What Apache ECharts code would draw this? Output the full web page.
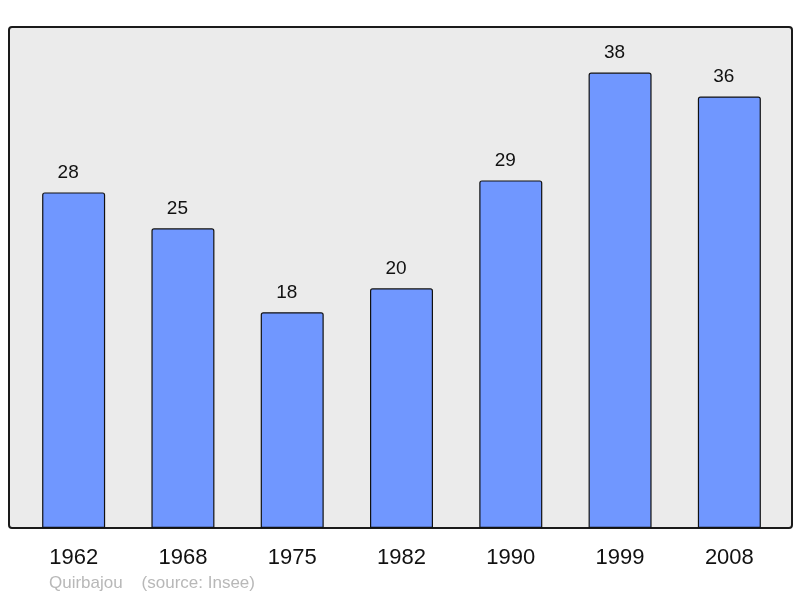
<!DOCTYPE html>
<html>
<head>
<meta charset="utf-8">
<script src="https://cdn.jsdelivr.net/npm/echarts@6/dist/echarts.min.js"></script>
<style>
  html, body { margin: 0; padding: 0; background: #fff; }
  #chart { width: 800px; height: 598px; }
</style>
</head>
<body>
<div id="chart"></div>
<script>
// données de population
var annees = ['1962', '1968', '1975', '1982', '1990', '1999', '2008'];
var population = [28, 25, 18, 20, 29, 38, 36];

var myChart = echarts.init(document.getElementById('chart'));
var option = {
  animation: false,
  textStyle: { fontFamily: 'Liberation Sans, Arial, sans-serif' },
  title: {
    text: 'Quirbajou    (source: Insee)',
    left: 49,
    top: 575,
    padding: 0,
    textStyle: { color: '#b8b8b8', fontSize: 17, fontWeight: 'normal' }
  },
  // fond du graphique
  graphic: [{
    type: 'rect',
    z: -1,
    shape: { x: 9, y: 27, width: 783, height: 501, r: 3 },
    style: { fill: '#ebebeb', stroke: '#1a1a1a', lineWidth: 2 }
  }],
  grid: { left: 19, width: 765, top: 27, bottom: 70 },
  xAxis: {
    type: 'category',
    data: annees,
    axisLine: { show: false },
    axisTick: { show: false },
    axisLabel: { color: '#111', fontSize: 22, margin: 19 }
  },
  yAxis: {
    type: 'value',
    min: 0,
    max: 41.8,
    show: false,
    splitLine: { show: false }
  },
  series: [{
    type: 'bar',
    data: population,
    barWidth: 63,
    itemStyle: {
      color: '#7097ff',
      borderColor: '#111',
      borderWidth: 1.2,
      borderRadius: [2, 2, 0, 0]
    },
    label: {
      show: true,
      position: 'top',
      distance: 10,
      offset: [-5.5, 0],
      color: '#111',
      fontSize: 19
    }
  }]
};
myChart.setOption(option);
</script>
</body>
</html>
